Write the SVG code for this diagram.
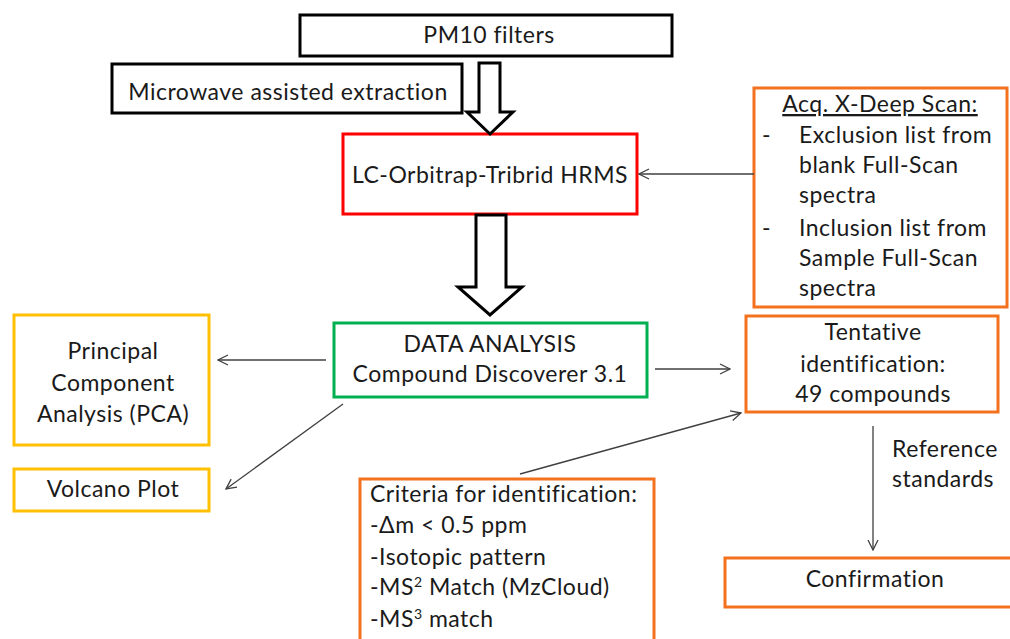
<svg xmlns="http://www.w3.org/2000/svg" width="1010" height="639" viewBox="0 0 1010 639">
<style>
text{font-family:Lato,"Liberation Sans",sans-serif;font-size:23px;letter-spacing:0.5px;fill:#1a1a1a}
.c{text-anchor:middle}
.box{fill:#fff;stroke-width:3}
.k{stroke:#000}.r{stroke:#ff0000}.g{stroke:#00b050}.o{stroke:#f4711f}.y{stroke:#ffc000}
.hol{fill:#fff;stroke:#000;stroke-width:3;stroke-linejoin:miter}
.ln{stroke:#404040;stroke-width:1.3;fill:none;marker-end:url(#ah)}
</style>
<defs>
<marker id="ah" viewBox="0 0 12 12" refX="11" refY="6" markerWidth="12" markerHeight="12" markerUnits="userSpaceOnUse" orient="auto">
<path d="M1,1 L11,6 L1,11" fill="none" stroke="#404040" stroke-width="1.3"/>
</marker>
</defs>
<g id="pm10"><rect class="box k" x="300" y="15" width="372" height="41"/><text class="c" x="489" y="43">PM10 filters</text></g>
<g id="microwave"><rect class="box k" x="112" y="64" width="350" height="49"/><text class="c" x="288" y="100">Microwave assisted extraction</text></g>
<g id="lc"><rect class="box r" x="343" y="134" width="294" height="80"/><text class="c" x="490" y="183">LC-Orbitrap-Tribrid HRMS</text></g>
<g id="acq"><rect class="box o" x="754" y="88" width="253" height="219"/>
<text class="c" x="880" y="112" text-decoration="underline">Acq. X-Deep Scan:</text>
<text x="762" y="143">-</text><text x="799" y="143">Exclusion list from</text>
<text x="799" y="173">blank Full-Scan</text>
<text x="799" y="203">spectra</text>
<text x="762" y="236">-</text><text x="799" y="236">Inclusion list from</text>
<text x="799" y="266">Sample Full-Scan</text>
<text x="799" y="296">spectra</text>
</g>
<g id="data"><rect class="box g" x="334" y="323" width="313" height="74"/><text class="c" x="490" y="352">DATA ANALYSIS</text><text class="c" x="490" y="382">Compound Discoverer 3.1</text></g>
<g id="pca"><rect class="box y" x="14" y="315" width="195" height="130"/><text class="c" x="113" y="359">Principal</text><text class="c" x="113" y="391">Component</text><text class="c" x="113" y="422">Analysis (PCA)</text></g>
<g id="volcano"><rect class="box y" x="14" y="469" width="195" height="42"/><text class="c" x="113" y="497">Volcano Plot</text></g>
<g id="tentative"><rect class="box o" x="746" y="316" width="252" height="96"/><text class="c" x="873" y="340">Tentative</text><text class="c" x="873" y="372">identification:</text><text class="c" x="873" y="402">49 compounds</text></g>
<g id="criteria"><rect class="box o" x="360" y="479" width="294" height="170"/>
<text x="370" y="502">Criteria for identification:</text>
<text x="370" y="533">-Δm &lt; 0.5 ppm</text>
<text x="370" y="565">-Isotopic pattern</text>
<text x="370" y="595">-MS<tspan dy="-8" font-size="14">2</tspan><tspan dy="8"> Match (MzCloud)</tspan></text>
<text x="370" y="627">-MS<tspan dy="-8" font-size="14">3</tspan><tspan dy="8"> match</tspan></text>
</g>
<g id="confirmation"><rect class="box o" x="725" y="558" width="295" height="49"/><text class="c" x="875" y="587">Confirmation</text></g>
<g id="connectors">
<path class="hol" d="M479,63 L500,63 L500,112 L513,112 L490,134 L467,112 L479,112 Z"/>
<path class="hol" d="M476,215 L506,215 L506,287 L522,287 L490,315 L458,287 L476,287 Z"/>
<line class="ln" x1="754" y1="174" x2="639" y2="174"/>
<line class="ln" x1="326" y1="360" x2="218" y2="360"/>
<line class="ln" x1="343" y1="404" x2="226" y2="489"/>
<line class="ln" x1="655" y1="369" x2="730" y2="369"/>
<line class="ln" x1="520" y1="474" x2="741" y2="413"/>
<line class="ln" x1="873" y1="426" x2="873" y2="550"/>
<text x="892" y="457">Reference</text>
<text x="892" y="487">standards</text>
</g>
</svg>
